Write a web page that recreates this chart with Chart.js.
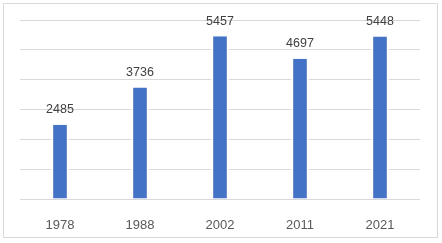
<!DOCTYPE html>
<html lang="en">
<head>
    <meta charset="UTF-8">
    <title>Bar chart</title>
    <script src="https://cdn.jsdelivr.net/npm/chart.js"></script>
    <style>
        html, body { margin: 0; padding: 0; background: #fff; }
        #frame {
            position: absolute; left: 3px; top: 3px;
            width: 433px; height: 233px;
            border: 1px solid #d9d9d9;
        }
        #wrap { position: absolute; left: 0; top: 0; width: 442px; height: 243px; }
    </style>
</head>
<body>
    <div id="frame"></div>
    <div id="wrap"><canvas id="chart"></canvas></div>

    <script>
        const years = ['1978', '1988', '2002', '2011', '2021'];
        const values = [2485, 3736, 5457, 4697, 5448];
        const yMax = 6000;
        const yStep = 1000;

        // value labels above each bar
        const barLabels = {
            id: 'barLabels',
            afterDatasetsDraw(chart) {
                const ctx = chart.ctx;
                const meta = chart.getDatasetMeta(0);
                ctx.save();
                ctx.font = '12.5px "Liberation Sans", Arial, sans-serif';
                ctx.fillStyle = '#404040';
                ctx.textAlign = 'center';
                ctx.textBaseline = 'middle';
                meta.data.forEach((bar, i) => {
                    ctx.fillText(String(values[i]), bar.x, bar.y - 15);
                });
                ctx.restore();
            }
        };

        new Chart(document.getElementById('chart'), {
            type: 'bar',
            data: {
                labels: years,
                datasets: [{
                    data: values,
                    backgroundColor: '#4472c4',
                    borderColor: '#ffffff',
                    borderWidth: { left: 2, right: 2, top: 0, bottom: 0 },
                    categoryPercentage: 1,
                    barPercentage: 0.22
                }]
            },
            options: {
                responsive: true,
                maintainAspectRatio: false,
                animation: false,
                layout: { padding: { left: 20, right: 22, top: 20, bottom: 6 } },
                plugins: {
                    legend: { display: false },
                    tooltip: { enabled: false }
                },
                scales: {
                    x: {
                        grid: { display: false },
                        border: { display: false },
                        ticks: {
                            color: '#595959',
                            padding: 11,
                            font: { family: '"Liberation Sans", Arial, sans-serif', size: 13 }
                        },
                        afterFit(scale) { scale.height = 38; }
                    },
                    y: {
                        min: 0,
                        max: yMax,
                        ticks: { display: false, stepSize: yStep },
                        grid: { color: '#d9d9d9', lineWidth: 1, drawTicks: false },
                        border: { display: false },
                        afterFit(scale) { scale.width = 0; }
                    }
                }
            },
            plugins: [barLabels]
        });
    </script>
</body>
</html>
